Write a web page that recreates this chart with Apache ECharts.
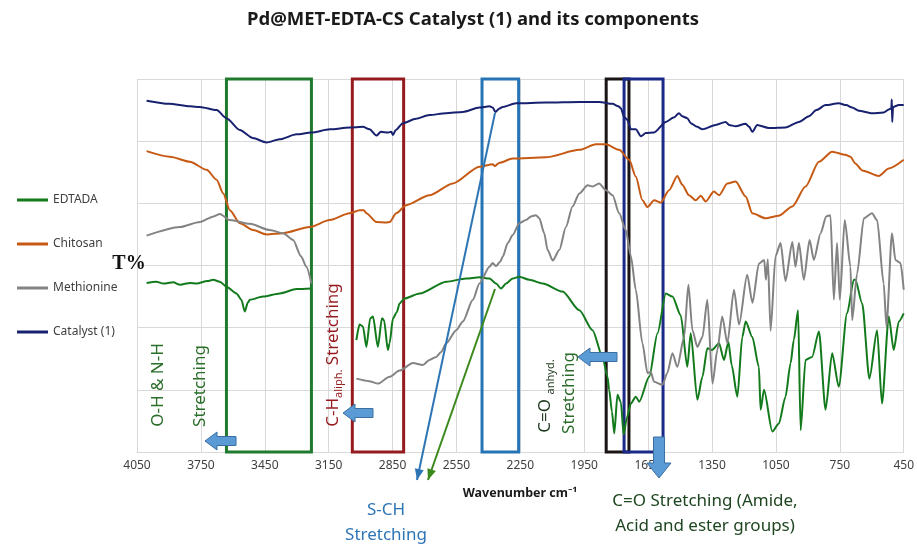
<!DOCTYPE html>
<html>
<head>
<meta charset="utf-8">
<script src="https://cdn.jsdelivr.net/npm/echarts@6/dist/echarts.min.js"></script>
<style>
  html, body { margin: 0; padding: 0; background: #fff; }
  #chart { width: 917px; height: 544px; }
</style>
</head>
<body>
<div id="chart"></div>
<script>
// wavenumber axis runs 4050 -> 450 left to right; plotted as offset from 4050
const X_MAX = 4050
const xTicks = [4050, 3750, 3450, 3150, 2850, 2550, 2250, 1950, 1650, 1350, 1050, 750, 450]

const seriesNames = ['EDTADA', 'Chitosan', 'Methionine', 'Catalyst (1)']

// [wavenumber, T%] pairs, null = no trace drawn
const edtada = [
  [4005, 27.2], [3960, 27.4], [3926, 27.1], [3880, 27.3], [3848, 26.9], [3800, 27.2], [3770, 27.1],
  [3720, 27.5], [3692, 27.7], [3661, 27.4], [3630, 26.6], [3583, 25.5], [3560, 24.5], [3544, 22.6],
  [3530, 24.0], [3520, 24.5], [3458, 25.0], [3380, 25.5], [3301, 26.2], [3231, 26.3], [3220, null],
  [3020, 18.0], [3005, 20.5], [2989, 20.2], [2973, 16.9], [2955, 21.5], [2942, 21.8], [2919, 16.9],
  [2900, 21.5], [2890, 21.2], [2872, 16.4], [2864, 17.5], [2848, 21.5], [2830, 22.5], [2817, 23.9],
  [2794, 24.7], [2723, 25.5], [2598, 27.4], [2505, 27.9], [2442, 28.1], [2395, 27.9], [2364, 27.1],
  [2341, 26.3], [2317, 27.1], [2286, 27.9], [2255, 28.2], [2208, 27.7], [2145, 27.1], [2052, 25.8],
  [1973, 22.8], [1911, 19.6], [1864, 15.3], [1841, 12.1], [1833, 10.0], [1820, 6.5], [1809, 3.0],
  [1794, 9.2], [1778, 8.0], [1765, 2.8], [1750, 5.5], [1731, 7.8], [1708, 8.9], [1692, 8.1],
  [1645, 12.1], [1606, 19.1], [1567, 25.5], [1536, 25.0], [1497, 22.0], [1466, 13.7], [1450, 19.1],
  [1419, 8.4], [1395, 12.1], [1372, 16.7], [1350, 16.4], [1317, 17.5], [1294, 14.8], [1273, 17.7],
  [1258, 14.0], [1231, 8.9], [1208, 18.5], [1192, 21.0], [1161, 18.5], [1130, 13.7], [1122, 6.8],
  [1106, 10.0], [1067, 3.3], [1036, 4.6], [1005, 8.9], [981, 14.3], [966, 18.0], [946, 22.8],
  [934, 3.5], [911, 14.8], [880, 15.3], [848, 19.4], [817, 6.8], [786, 15.9], [755, 10.5],
  [716, 22.3], [684, 27.7], [677, 27.7], [645, 23.9], [611, 11.8], [575, 19.6], [552, 7.8],
  [520, 21.8], [497, 16.4], [473, 21.0], [450, 22.3]
]

const chitosan = [
  [4005, 48.4], [3895, 47.5], [3802, 46.7], [3723, 45.4], [3676, 43.8], [3645, 41.6], [3614, 38.9],
  [3567, 36.8], [3505, 35.7], [3442, 35.0], [3364, 35.2], [3239, 36.2], [3145, 37.3], [3052, 38.4],
  [3005, 38.9], [2985, 38.9], [2973, 38.4], [2926, 37.0], [2880, 36.9], [2864, 37.0], [2833, 38.4],
  [2786, 39.7], [2677, 41.3], [2567, 43.2], [2442, 45.9], [2380, 46.3], [2370, 46.0], [2350, 46.5],
  [2286, 47.2], [2130, 47.4], [1973, 48.6], [1895, 49.5], [1848, 49.5], [1786, 48.6], [1739, 47.0],
  [1708, 44.3], [1677, 40.5], [1653, 39.4], [1622, 40.5], [1591, 40.1], [1552, 42.1], [1513, 44.4],
  [1490, 43.0], [1458, 41.3], [1427, 40.5], [1403, 41.2], [1380, 40.3], [1341, 41.9], [1317, 41.3],
  [1278, 43.2], [1239, 43.5], [1192, 41.1], [1161, 38.4], [1099, 37.6], [1036, 38.0], [973, 39.5],
  [911, 42.7], [848, 46.7], [786, 48.3], [723, 47.8], [700, 47.5], [677, 46.4], [645, 45.3],
  [567, 44.4], [520, 45.6], [450, 47.0]
]

const methionine = [
  [4005, 34.8], [3848, 36.2], [3755, 37.0], [3690, 37.9], [3661, 38.3], [3614, 37.3], [3520, 36.7],
  [3426, 35.7], [3364, 35.2], [3317, 34.1], [3280, 31.5], [3255, 29.8], [3231, 27.1], [3200, null],
  [3020, 11.8], [2960, 11.4], [2919, 11.0], [2864, 12.1], [2817, 13.1], [2755, 14.3], [2708, 14.0],
  [2677, 14.8], [2645, 15.3], [2622, 16.1], [2598, 17.5], [2551, 19.6], [2520, 21.0], [2473, 24.5],
  [2442, 27.1], [2395, 29.8], [2380, 30.4], [2364, 29.9], [2345, 30.6], [2333, 31.4], [2309, 33.6],
  [2286, 34.9], [2255, 36.8], [2224, 37.3], [2200, 37.9], [2177, 38.1], [2161, 37.6], [2138, 35.2],
  [2122, 32.5], [2098, 30.8], [2067, 32.5], [2036, 36.2], [2005, 39.5], [1973, 41.6], [1934, 42.9],
  [1911, 42.7], [1880, 43.2], [1848, 42.1], [1817, 41.3], [1786, 38.4], [1755, 35.7], [1731, 31.5],
  [1708, 26.1], [1677, 17.5], [1653, 12.7], [1638, 12.9], [1622, 11.3], [1583, 10.8], [1560, 12.7],
  [1536, 15.9], [1513, 13.7], [1481, 18.5], [1461, 26.9], [1442, 19.6], [1419, 16.9], [1395, 18.5],
  [1372, 24.5], [1348, 11.0], [1325, 16.4], [1302, 21.8], [1278, 17.5], [1247, 26.1], [1223, 20.5],
  [1185, 28.5], [1160, 24.0], [1130, 30.3], [1105, 30.9], [1097, 27.7], [1088, 31.0], [1075, 19.5],
  [1052, 31.5], [1028, 33.6], [1005, 27.5], [973, 33.8], [958, 29.8], [942, 33.6], [919, 27.7],
  [892, 34.1], [872, 30.9], [840, 35.2], [814, 37.9], [794, 38.1], [778, 24.5], [763, 33.6],
  [750, 24.5], [727, 37.3], [700, 29.8], [692, 21.2], [669, 28.7], [637, 37.6], [599, 38.4],
  [575, 37.3], [544, 27.1], [531, 20.2], [505, 35.2], [489, 30.9], [465, 30.4], [450, 26.1]
]

const catalyst = [
  [4005, 56.5], [3900, 56.0], [3800, 55.6], [3755, 55.5], [3676, 55.0], [3630, 53.7], [3567, 51.8],
  [3506, 50.5], [3442, 49.8], [3380, 50.3], [3301, 51.1], [3231, 51.4], [3145, 51.9], [3052, 52.2],
  [2989, 52.3], [2958, 51.9], [2926, 50.9], [2905, 51.5], [2870, 51.4], [2856, 51.5], [2848, 51.0],
  [2835, 51.8], [2802, 52.9], [2740, 53.6], [2677, 54.2], [2600, 54.5], [2520, 54.7], [2442, 55.4],
  [2395, 55.6], [2380, 55.4], [2367, 54.7], [2350, 55.2], [2333, 55.5], [2270, 56.1], [2130, 56.2],
  [1973, 56.3], [1880, 56.3], [1817, 56.0], [1790, 55.6], [1778, 55.3], [1763, 53.9], [1747, 53.4],
  [1731, 51.9], [1708, 51.9], [1684, 50.8], [1661, 51.3], [1622, 51.4], [1567, 53.1], [1530, 53.8],
  [1505, 54.5], [1490, 54.0], [1466, 53.7], [1450, 52.9], [1420, 52.3], [1395, 51.9], [1333, 52.6],
  [1286, 53.1], [1270, 52.6], [1239, 52.4], [1192, 52.8], [1175, 52.3], [1161, 51.5], [1138, 52.6],
  [1083, 52.1], [1005, 52.2], [942, 53.1], [895, 54.0], [860, 55.0], [817, 55.8], [755, 56.1],
  [720, 55.8], [692, 55.4], [661, 54.9], [598, 54.5], [544, 54.6], [520, 55.1], [508, 55.3],
  [506, 56.7], [504, 53.1], [500, 55.5], [473, 55.8], [450, 55.8]
]

// highlighted bands [from, to] wavenumber
const bands = [
  { from: 3630, to: 3231, color: '#1f7a2e' },
  { from: 3039, to: 2798, color: '#951b1f' },
  { from: 2430, to: 2258, color: '#2673b5' },
  { from: 1847, to: 1740, color: '#1a1414' },
  { from: 1763, to: 1580, color: '#1b2a88' }
]

const colors = ['#137a1c', '#c65a14', '#838383', '#17216f']

const toXY = arr => arr.map(p => [X_MAX - p[0], p[1] === null ? '-' : p[1]])

const chart = echarts.init(document.getElementById('chart'))
const FONT = 'Noto Sans'

const lineSeries = [edtada, chitosan, methionine, catalyst].map((d, i) => ({
  name: seriesNames[i],
  type: 'line',
  data: toXY(d),
  symbol: 'none',
  smooth: 0.25,
  smoothMonotone: 'x',
  connectNulls: false,
  lineStyle: { color: colors[i], width: 2 },
  itemStyle: { color: colors[i] },
  z: 2 + i
}))

const boxSeries = {
  type: 'line',
  name: 'bands',
  data: [],
  silent: true,
  z: 10,
  markArea: {
    silent: true,
    label: { show: false },
    data: bands.map(b => [
      { xAxis: X_MAX - b.from, yAxis: 60, itemStyle: { color: 'rgba(0,0,0,0)', borderColor: b.color, borderWidth: 3 } },
      { xAxis: X_MAX - b.to, yAxis: 0 }
    ])
  }
}

function leftArrow (tx, ty, tailX) {
  const hl = 12, hh = 9, sh = 4.5
  return [[tx, ty], [tx + hl, ty - hh], [tx + hl, ty - sh], [tailX, ty - sh],
    [tailX, ty + sh], [tx + hl, ty + sh], [tx + hl, ty + hh]]
}

function downArrow (cx, top, tip) {
  const hl = 15, hw = 12, sw = 5.5
  return [[cx, tip], [cx - hw, tip - hl], [cx - sw, tip - hl], [cx - sw, top],
    [cx + sw, top], [cx + sw, tip - hl], [cx + hw, tip - hl]]
}

function arrowHead (x1, y1, x2, y2) {
  const a = Math.atan2(y2 - y1, x2 - x1)
  const len = 11, w = 4.5
  const bx = x2 - len * Math.cos(a), by = y2 - len * Math.sin(a)
  return [[x2, y2], [bx + w * Math.sin(a), by - w * Math.cos(a)], [bx - w * Math.sin(a), by + w * Math.cos(a)]]
}

const arrowStyle = { fill: '#5b9bd5', stroke: '#3b6fa3', lineWidth: 1 }

function vtext (x, y, text, fill, rich) {
  return {
    type: 'text', x: x, y: y, rotation: Math.PI / 2, z: 100,
    style: {
      text: text, fill: fill, font: '17px "Noto Sans"',
      textAlign: 'center', textVerticalAlign: 'middle', rich: rich
    }
  }
}

function htext (x, y, text, fill, font) {
  return {
    type: 'text', x: x, y: y, z: 100,
    style: { text: text, fill: fill, font: font, textAlign: 'center', textVerticalAlign: 'middle' }
  }
}

const graphics = [
  htext(473, 20, 'Pd@MET-EDTA-CS Catalyst (1) and its components', '#1a1a1a', 'bold 18.5px "Noto Sans"'),
  htext(129, 264, 'T%', '#111', 'bold 20px "Liberation Serif"'),
  htext(520, 493, 'Wavenumber cm\u207B\u00B9', '#1a1a1a', 'bold 12.5px "Noto Sans"'),
  htext(386, 510, 'S-CH', '#2e75b6', '17px "Noto Sans"'),
  htext(386, 535, 'Stretching', '#2e75b6', '17px "Noto Sans"'),
  htext(705, 501, 'C=O Stretching (Amide,', '#1e4620', '17px "Noto Sans"'),
  htext(705, 526, 'Acid and ester groups)', '#1e4620', '17px "Noto Sans"'),
  vtext(158, 385, 'O-H & N-H', '#2a6e2a'),
  vtext(200, 386, 'Stretching', '#2a6e2a'),
  vtext(333, 355, '{a|C-H}{b|aliph.}{a| Stretching}', '#951b1f', {
    a: { fill: '#951b1f', fontSize: 17, fontFamily: FONT, lineHeight: 22 },
    b: { fill: '#951b1f', fontSize: 11, fontFamily: FONT, lineHeight: 12, verticalAlign: 'bottom' }
  }),
  vtext(545, 396, '{a|C=O }{b|anhyd.}', '#1f3a1f', {
    a: { fill: '#1f3a1f', fontSize: 17, fontFamily: FONT, lineHeight: 22 },
    b: { fill: '#1f3a1f', fontSize: 11, fontFamily: FONT, lineHeight: 12, verticalAlign: 'bottom' }
  }),
  vtext(569, 393, 'Stretching', '#2d6b2d'),
  // diagonal pointer lines
  { type: 'line', z: 100, shape: { x1: 495, y1: 113, x2: 417, y2: 480 }, style: { stroke: '#2e75b6', lineWidth: 2 } },
  { type: 'polygon', z: 100, shape: { points: arrowHead(495, 113, 417, 480) }, style: { fill: '#2e75b6' } },
  { type: 'line', z: 100, shape: { x1: 495, y1: 289, x2: 428, y2: 480 }, style: { stroke: '#3c8a1e', lineWidth: 2 } },
  { type: 'polygon', z: 100, shape: { points: arrowHead(495, 289, 428, 480) }, style: { fill: '#3c8a1e' } },
  // block arrows
  { type: 'polygon', z: 100, shape: { points: leftArrow(205, 441, 236) }, style: arrowStyle },
  { type: 'polygon', z: 100, shape: { points: leftArrow(343, 413, 373) }, style: arrowStyle },
  { type: 'polygon', z: 100, shape: { points: leftArrow(578, 357, 617) }, style: arrowStyle },
  { type: 'polygon', z: 100, shape: { points: downArrow(659, 437, 478) }, style: arrowStyle }
]

const option = {
  animation: false,
  backgroundColor: '#ffffff',
  textStyle: { fontFamily: FONT },
  grid: { left: 137, right: 12, top: 79, bottom: 92 },
  legend: {
    data: seriesNames,
    orient: 'vertical',
    left: 12,
    top: 188,
    itemWidth: 31,
    itemHeight: 3,
    itemGap: 30,
    icon: 'rect',
    selectedMode: false,
    textStyle: { color: '#404040', fontSize: 12, fontFamily: FONT, lineHeight: 14 }
  },
  xAxis: {
    type: 'value',
    min: 0,
    max: X_MAX - xTicks[xTicks.length - 1],
    interval: xTicks[0] - xTicks[1],
    axisLabel: {
      formatter: v => String(X_MAX - v),
      color: '#404040',
      fontSize: 12,
      margin: 8,
      fontFamily: FONT
    },
    axisLine: { lineStyle: { color: '#d9d9d9', width: 1 } },
    axisTick: { show: false },
    splitLine: { show: true, lineStyle: { color: '#d9d9d9', width: 1 } }
  },
  yAxis: {
    type: 'value',
    min: 0,
    max: 60,
    interval: 10,
    axisLabel: { show: false },
    axisLine: { show: false },
    axisTick: { show: false },
    splitLine: { show: true, lineStyle: { color: '#d9d9d9', width: 1 } }
  },
  series: lineSeries.concat([boxSeries]),
  graphic: graphics
}

chart.setOption(option)
</script>
</body>
</html>
